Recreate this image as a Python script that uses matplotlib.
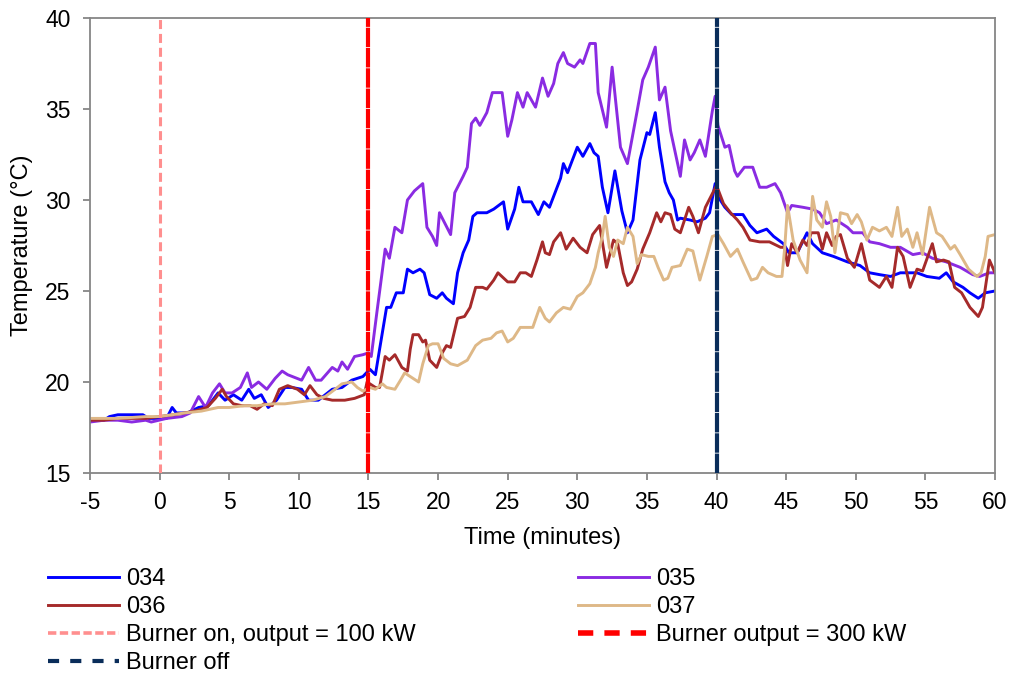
import matplotlib
matplotlib.use("Agg")
import matplotlib.pyplot as plt
from matplotlib.lines import Line2D

plt.rcParams['font.family'] = ['Liberation Sans', 'DejaVu Sans']
plt.rcParams['axes.unicode_minus'] = False
plt.rcParams['lines.scale_dashes'] = False

# ---- data (time in minutes, temperature in °C) ----
t_034 = [-5, -4, -3.6, -3, -2, -1.2, -0.8, 0, 0.5, 0.9, 1.2, 2.0, 2.8, 3.5, 4.2, 4.7, 5.3, 5.9, 6.4, 6.8,
         7.3, 7.8, 8.4, 9.0, 9.5, 10.2, 10.7, 11.4, 12.4, 13.1, 13.8, 14.6, 15.1, 15.5, 15.8, 16.3, 16.6,
         17.0, 17.5, 17.8, 18.2, 18.7, 19.0, 19.4, 19.9, 20.3, 20.6, 21.1, 21.4, 21.8, 22.2, 22.5, 22.8,
         23.5, 24.0, 24.7, 25.0, 25.5, 25.8, 26.1, 26.7, 27.2, 27.6, 28.0, 28.4, 28.8, 29.0, 29.3, 30.0,
         30.4, 30.9, 31.2, 31.5, 31.8, 32.2, 32.7, 33.2, 33.6, 34.0, 34.5, 35.0, 35.2, 35.6, 35.9, 36.3,
         36.6, 36.9, 37.2, 37.4, 38.1, 38.6, 39.2, 39.5, 39.9, 40.1, 40.6, 41.1, 41.9, 42.4, 42.9, 43.6,
         44.1, 44.8, 45.2, 45.8, 46.5, 46.9, 47.6, 48.4, 49.4, 50.3, 51.0, 51.7, 52.5, 53.2, 53.7, 54.4,
         55.1, 56.0, 56.5, 57.0, 57.7, 58.2, 58.8, 59.3, 60]
T_034 = [17.9, 17.9, 18.1, 18.2, 18.2, 18.2, 18.0, 18.0, 18.0, 18.6, 18.3, 18.3, 18.6, 18.7, 19.4, 19.0,
         19.3, 19.0, 19.6, 19.1, 19.3, 18.6, 19.0, 19.7, 19.7, 19.6, 19.0, 19.0, 19.6, 19.7, 20.1, 20.3,
         20.7, 20.4, 21.8, 24.1, 24.1, 24.9, 24.9, 26.2, 26.0, 26.2, 26.0, 24.8, 24.6, 24.9, 24.6, 24.3,
         26.0, 27.1, 27.8, 29.1, 29.3, 29.3, 29.5, 29.9, 28.4, 29.5, 30.7, 29.9, 29.9, 29.2, 29.9, 29.6,
         30.4, 31.2, 32.0, 31.5, 32.9, 32.4, 33.1, 32.6, 32.4, 30.7, 29.3, 31.6, 29.4, 28.2, 28.9, 32.2,
         33.7, 33.6, 34.8, 32.9, 31.0, 30.4, 30.0, 28.9, 29.0, 28.9, 28.8, 29.0, 29.3, 30.9, 30.2, 29.6,
         29.2, 29.2, 28.6, 28.2, 28.4, 28.0, 27.6, 27.1, 27.1, 28.2, 27.6, 27.1, 26.9, 26.6, 26.4, 26.0,
         25.9, 25.8, 26.0, 26.0, 26.0, 25.8, 25.7, 26.0, 25.5, 25.2, 24.9, 24.6, 24.9, 25.0]

t_035 = [-5, -4, -3, -2, -1, -0.6, 0.5, 1.6, 2.2, 2.8, 3.3, 3.8, 4.3, 4.7, 5.2, 5.8, 6.3, 6.6, 7.1, 7.7,
         8.3, 8.8, 9.2, 10.2, 10.7, 11.2, 11.6, 12.4, 12.8, 13.1, 13.5, 14.0, 14.6, 15.0, 15.2, 15.6, 16.2,
         16.5, 16.9, 17.4, 17.8, 18.3, 18.9, 19.2, 19.6, 19.9, 20.1, 20.5, 20.9, 21.2, 21.8, 22.1, 22.4,
         22.7, 23.0, 23.5, 23.9, 24.6, 25.0, 25.3, 25.7, 26.1, 26.4, 27.0, 27.5, 27.9, 28.3, 28.6, 29.0,
         29.3, 29.8, 30.2, 30.4, 30.9, 31.3, 31.5, 32.1, 32.5, 33.1, 33.6, 34.3, 34.7, 35.1, 35.6, 35.9,
         36.3, 36.7, 37.4, 37.7, 38.1, 38.4, 38.8, 39.2, 39.7, 39.9, 40.1, 40.6, 40.9, 41.3, 41.5, 42.0,
         42.6, 43.1, 43.6, 44.2, 44.6, 45.1, 45.4, 46.2, 46.9, 47.4, 47.9, 48.6, 49.4, 49.8, 50.5, 51.0,
         51.7, 52.5, 53.2, 54.1, 54.8, 55.5, 56.5, 57.5, 58.4, 58.9, 59.6, 60]
T_035 = [17.8, 17.9, 17.9, 17.8, 17.9, 17.8, 18.0, 18.1, 18.3, 19.2, 18.6, 19.4, 19.9, 19.4, 19.4, 19.7,
         20.5, 19.7, 20.0, 19.6, 20.2, 20.6, 20.4, 20.1, 20.8, 20.1, 20.1, 20.8, 20.6, 21.1, 20.7, 21.4,
         21.5, 21.6, 21.4, 23.8, 27.3, 26.8, 28.5, 28.2, 30.0, 30.5, 30.9, 28.5, 28.0, 27.5, 29.3, 28.7,
         28.1, 30.4, 31.3, 31.8, 34.2, 34.5, 34.1, 34.8, 35.9, 35.9, 33.5, 34.4, 35.9, 35.1, 35.9, 35.1,
         36.7, 35.7, 36.4, 37.5, 38.1, 37.5, 37.3, 37.7, 37.5, 38.6, 38.6, 35.9, 34.0, 37.3, 32.9, 32.0,
         34.9, 36.6, 37.3, 38.4, 35.5, 36.2, 33.8, 31.3, 33.3, 32.2, 32.6, 33.3, 32.4, 34.9, 35.7, 34.1,
         32.9, 33.0, 31.6, 31.3, 31.8, 31.8, 30.7, 30.7, 30.9, 30.4, 29.3, 29.7, 29.6, 29.5, 29.3, 28.7,
         28.9, 28.5, 28.2, 28.2, 27.7, 27.6, 27.4, 27.4, 27.0, 27.1, 26.8, 26.6, 26.3, 25.9, 25.8, 26.0, 26.0]

t_036 = [-5, -4, -3, -2, -1, 0, 1.0, 1.8, 2.5, 3.4, 4.0, 4.5, 4.8, 5.3, 5.9, 6.5, 7.0, 7.5, 8.1, 8.6,
         9.2, 9.9, 10.4, 10.8, 11.3, 11.8, 12.4, 13.3, 14.0, 14.7, 14.9, 15.5, 15.8, 16.2, 16.5, 16.9, 17.4,
         17.8, 18.0, 18.2, 18.6, 18.9, 19.1, 19.4, 19.9, 20.3, 20.6, 20.9, 21.4, 21.9, 22.3, 22.7, 23.2,
         23.5, 24.0, 24.3, 25.0, 25.5, 25.9, 26.3, 26.7, 27.1, 27.5, 27.7, 28.0, 28.3, 28.8, 29.2, 29.7,
         30.2, 30.7, 31.1, 31.6, 32.1, 32.6, 32.9, 33.3, 33.6, 33.9, 34.3, 34.7, 35.2, 35.7, 36.0, 36.3,
         36.7, 37.0, 37.4, 38.0, 38.3, 38.7, 39.2, 39.6, 40.0, 40.5, 41.0, 41.5, 41.9, 42.4, 43.1, 43.8,
         44.6, 44.9, 45.1, 45.4, 45.8, 46.2, 46.5, 46.8, 47.3, 47.6, 47.9, 48.3, 48.6, 48.9, 49.4, 49.9,
         50.4, 51.0, 51.7, 52.2, 52.6, 53.0, 53.4, 53.9, 54.4, 54.8, 55.5, 55.8, 56.3, 56.7, 57.1, 57.6,
         58.2, 58.8, 59.1, 59.6, 60]
T_036 = [17.9, 17.9, 18.0, 18.0, 18.0, 18.1, 18.2, 18.3, 18.4, 18.6, 19.1, 19.6, 19.2, 18.8, 18.7, 18.7,
         18.5, 18.8, 18.7, 19.6, 19.8, 19.6, 19.3, 19.8, 19.3, 19.1, 19.0, 19.0, 19.1, 19.3, 20.0, 19.7,
         19.7, 21.4, 21.2, 21.5, 20.8, 20.6, 21.8, 22.6, 22.6, 22.2, 22.3, 21.2, 20.8, 21.6, 22.0, 21.9,
         23.5, 23.6, 24.1, 25.2, 25.2, 25.1, 25.6, 26.0, 25.5, 25.5, 26.0, 26.0, 25.8, 26.7, 27.7, 27.1,
         27.0, 27.7, 28.2, 27.3, 27.9, 27.4, 27.1, 28.1, 28.6, 26.3, 27.8, 27.6, 26.0, 25.3, 25.5, 26.2,
         27.3, 28.2, 29.3, 28.8, 29.3, 29.2, 28.4, 28.2, 29.6, 29.1, 28.2, 29.6, 30.2, 30.8, 29.8, 29.3,
         28.9, 28.5, 27.8, 27.7, 27.7, 27.4, 27.4, 26.4, 27.6, 27.1, 27.8, 27.5, 28.2, 28.2, 27.3, 28.2,
         27.5, 28.0, 28.1, 26.8, 26.3, 27.6, 25.6, 25.2, 25.8, 25.2, 27.4, 26.9, 25.2, 26.2, 26.1, 27.6,
         26.6, 26.7, 26.6, 25.2, 24.9, 24.1, 23.6, 24.1, 26.7, 26.0]

t_037 = [-5, -3, -1, 0, 1.8, 3, 4.2, 5, 6.1, 7, 8.1, 9, 10.0, 11, 11.9, 12.6, 13.1, 13.8, 14.2, 14.6,
         15.1, 15.5, 16.0, 16.3, 16.9, 17.3, 17.6, 18.2, 18.6, 18.9, 19.3, 19.6, 20.0, 20.4, 20.9, 21.4,
         22.1, 22.7, 23.2, 23.8, 24.2, 24.6, 25.0, 25.4, 25.9, 26.4, 26.8, 27.3, 27.7, 28.0, 28.5, 29.0,
         29.5, 30.0, 30.4, 30.9, 31.3, 31.5, 31.8, 32.0, 32.3, 32.6, 32.9, 33.3, 33.6, 34.0, 34.3, 34.6,
         35.1, 35.5, 35.8, 36.2, 36.5, 36.8, 37.4, 37.9, 38.3, 38.8, 39.3, 39.7, 40.1, 40.5, 41.0, 41.5,
         41.9, 42.5, 42.9, 43.3, 43.7, 44.3, 44.7, 44.9, 45.1, 45.5, 46.0, 46.5, 46.9, 47.2, 47.6, 47.9,
         48.2, 48.5, 48.9, 49.4, 49.7, 50.1, 50.4, 50.8, 51.2, 51.7, 52.2, 52.6, 53.0, 53.3, 53.7, 54.1,
         54.4, 54.8, 55.3, 55.8, 56.2, 56.8, 57.1, 57.5, 58.1, 58.7, 59.0, 59.3, 59.5, 60]
T_037 = [18.0, 18.0, 18.1, 18.1, 18.3, 18.4, 18.6, 18.6, 18.7, 18.7, 18.8, 18.8, 18.9, 19.0, 19.2, 19.6,
         19.9, 20.0, 19.7, 19.5, 19.7, 19.6, 19.9, 19.7, 19.6, 20.1, 20.5, 20.2, 20.0, 21.0, 22.0, 22.1,
         22.1, 21.3, 21.0, 20.9, 21.2, 22.0, 22.3, 22.4, 22.7, 22.8, 22.2, 22.4, 23.0, 23.0, 23.0, 24.1,
         23.5, 23.3, 23.8, 24.1, 24.0, 24.7, 24.9, 25.4, 26.3, 27.1, 28.0, 29.1, 27.4, 26.9, 27.8, 27.6,
         28.5, 28.0, 26.5, 27.0, 26.9, 26.9, 26.3, 25.6, 25.7, 26.3, 26.4, 27.3, 27.2, 25.6, 26.9, 28.0,
         28.1, 27.6, 26.9, 27.3, 26.6, 25.6, 25.7, 26.3, 26.0, 25.8, 25.8, 27.4, 29.7, 27.8, 26.7, 26.0,
         30.2, 28.9, 28.5, 29.9, 29.1, 27.1, 29.3, 29.2, 28.7, 29.2, 28.8, 27.8, 28.5, 28.3, 28.5, 28.0,
         29.6, 28.0, 28.4, 27.4, 28.2, 27.0, 29.6, 28.2, 28.0, 27.3, 27.5, 27.0, 26.2, 25.8, 26.0, 26.9,
         28.0, 28.1]

series_names = ["034", "035", "036", "037"]
event_times = [0, 15, 40]
event_labels = ["Burner on, output = 100 kW", "Burner output = 300 kW", "Burner off"]
x_ticks = list(range(-5, 61, 5))
y_ticks = list(range(15, 41, 5))

# ---- figure ----
fig = plt.figure(figsize=(10.14, 6.77), dpi=100)
ax = fig.add_axes([90 / 1014, 1 - 473 / 677, 905 / 1014, 455 / 677])

colors = ["#0000FF", "#8A2BE2", "#A52A2A", "#DEB887"]
data = [(t_034, T_034), (t_035, T_035), (t_036, T_036), (t_037, T_037)]
series_lines = []
for (tt, TT), c, name in zip(data, colors, series_names):
    ln, = ax.plot(tt, TT, color=c, lw=2.1, label=name, solid_joinstyle='round')
    series_lines.append(ln)

ev_colors = ["#FF8F8F", "#FF0000", "#0A2D5A"]
ev_dashes = [(6.5, 3.5), (14, 0.6), (14, 0.6)]
ev_lw = [2.2, 3.0, 3.0]
for tx, c, d, w in zip(event_times, ev_colors, ev_dashes, ev_lw):
    ax.axvline(tx, color=c, lw=w, dashes=d, zorder=5)

ax.set_xlim(-5, 60)
ax.set_ylim(15, 40)
ax.set_xticks(x_ticks)
ax.set_yticks(y_ticks)
ax.set_xticklabels([str(v) for v in x_ticks])
ax.set_yticklabels([str(v) for v in y_ticks])

spine_c = "#868686"
for s in ax.spines.values():
    s.set_color(spine_c)
    s.set_linewidth(1.3)
ax.tick_params(axis='both', direction='out', length=5, width=1.3, color=spine_c,
               labelsize=16.5, labelcolor='black')
ax.tick_params(axis='x', pad=8)
ax.tick_params(axis='y', pad=9)

ax.set_xlabel("Time (minutes)", fontsize=17)
ax.set_ylabel("Temperature (°C)", fontsize=17)
ax.xaxis.set_label_coords(0.5, -0.118)
ax.yaxis.set_label_coords(-0.063, 0.5)

# legend proxies (styles only)
h_on = Line2D([], [], color=ev_colors[0], lw=2.6, dashes=(6, 2.5))
h_300 = Line2D([], [], color=ev_colors[1], lw=4.0, dashes=(11, 8))
h_off = Line2D([], [], color=ev_colors[2], lw=3.0, dashes=(8, 8))

handles = [series_lines[0], series_lines[2], h_on, h_off, series_lines[1], series_lines[3], h_300]
labels = [series_names[0], series_names[2], event_labels[0], event_labels[2],
          series_names[1], series_names[3], event_labels[1]]
fig.legend(handles, labels, loc='upper left', bbox_to_anchor=(48 / 1014, 1 - 568 / 677),
           ncol=2, frameon=False, fontsize=17, handlelength=3.0, handletextpad=0.3,
           columnspacing=6.9, labelspacing=0.26, borderpad=0, borderaxespad=0)

fig.savefig("out.png", dpi=100)
